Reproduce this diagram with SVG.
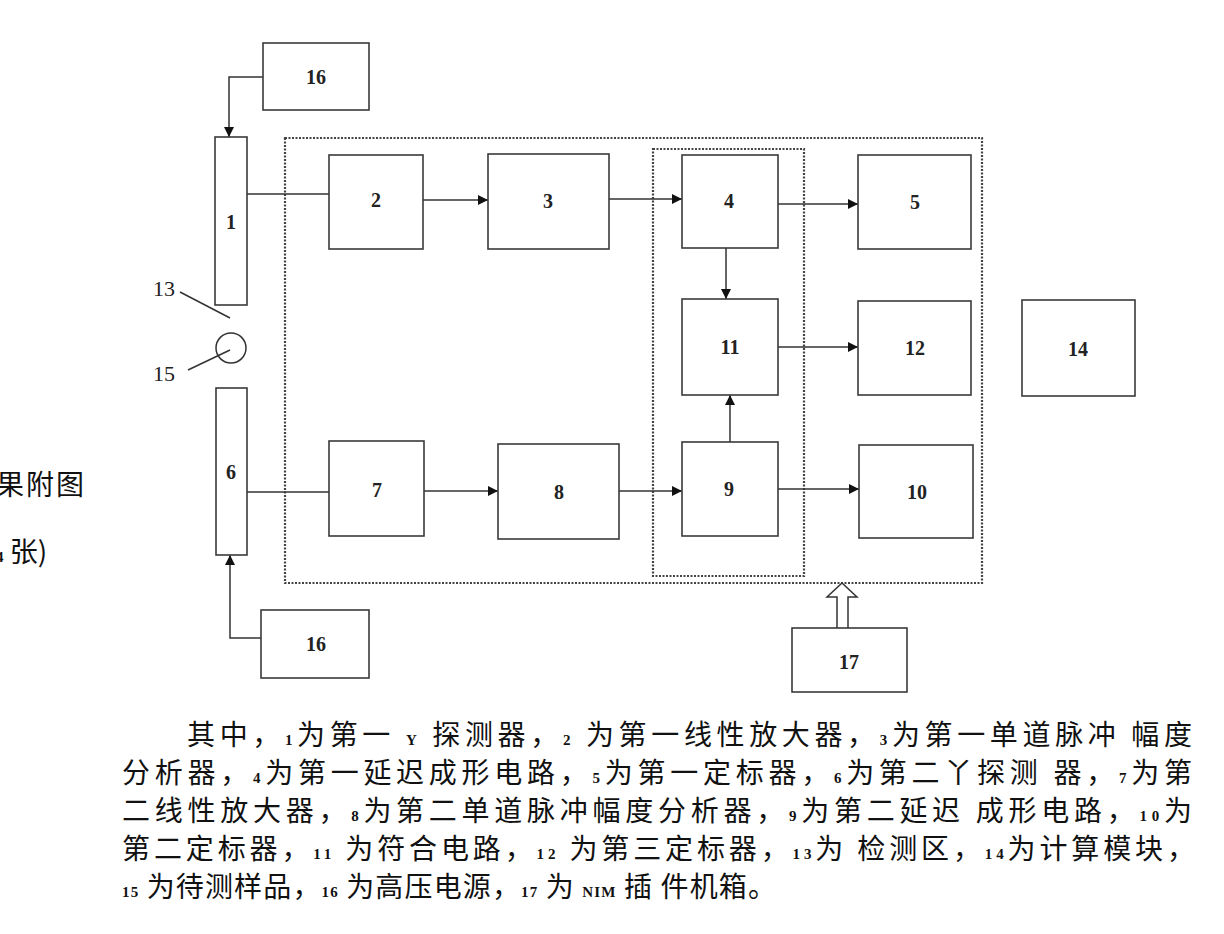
<svg xmlns="http://www.w3.org/2000/svg" width="1224" height="934" viewBox="0 0 1224 934">
<style>
.box{fill:#fff;stroke:#3a3a3a;stroke-width:1.6}
.lbl{font-family:"Liberation Serif",serif;font-weight:bold;font-size:20px;fill:#222;text-anchor:middle;dominant-baseline:central}
.wire{fill:none;stroke:#333;stroke-width:1.5}
.dot{fill:none;stroke:#444;stroke-width:2.2;stroke-dasharray:2 1.5}
.cn{font-family:"Noto Sans CJK SC","Noto Sans CJK JP",sans-serif;font-size:28px;fill:#111}
.nb{font-family:"Liberation Serif",serif;font-weight:bold;font-size:15px}
.side{font-family:"Liberation Serif",serif;font-size:22px;fill:#222}
</style>
<defs>
<marker id="ah" viewBox="0 0 10 10" refX="10" refY="5" markerWidth="12" markerHeight="10" markerUnits="userSpaceOnUse" orient="auto">
<path d="M0,0 L10,5 L0,10 z" fill="#111"/>
</marker>
</defs>
<rect width="1224" height="934" fill="#fff"/>

<g id="frames">
<rect class="dot" x="285" y="138" width="697" height="445"/>
<rect class="dot" x="653" y="149" width="151" height="427"/>
</g>

<g id="connectors">
<polyline class="wire" points="263,77 229,77 229,137" marker-end="url(#ah)"/>
<polyline class="wire" points="261,638 230,638 230,555" marker-end="url(#ah)"/>
<line class="wire" x1="247" y1="194" x2="329" y2="194"/>
<line class="wire" x1="423" y1="200" x2="488" y2="200" marker-end="url(#ah)"/>
<line class="wire" x1="609" y1="199" x2="682" y2="199" marker-end="url(#ah)"/>
<line class="wire" x1="778" y1="204" x2="858" y2="204" marker-end="url(#ah)"/>
<line class="wire" x1="726" y1="248" x2="726" y2="299" marker-end="url(#ah)"/>
<line class="wire" x1="778" y1="347" x2="858" y2="347" marker-end="url(#ah)"/>
<line class="wire" x1="730" y1="442" x2="730" y2="395" marker-end="url(#ah)"/>
<line class="wire" x1="778" y1="489" x2="859" y2="489" marker-end="url(#ah)"/>
<line class="wire" x1="247" y1="492" x2="329" y2="492"/>
<line class="wire" x1="424" y1="491" x2="498" y2="491" marker-end="url(#ah)"/>
<line class="wire" x1="619" y1="491" x2="682" y2="491" marker-end="url(#ah)"/>
<line class="wire" x1="180" y1="292" x2="230" y2="318"/>
<line class="wire" x1="188" y1="370" x2="230" y2="350"/>
<path d="M837,628 L837,597 L827,597 L842,583 L857,597 L848,597 L848,628" fill="#fff" stroke="#333" stroke-width="1.5"/>
</g>

<g id="n16a"><rect class="box" x="263" y="43" width="106" height="67"/><text class="lbl" x="316" y="77">16</text></g>
<g id="n1"><rect class="box" x="215" y="137" width="32" height="168"/><text class="lbl" x="231" y="222">1</text></g>
<g id="n2"><rect class="box" x="329" y="155" width="94" height="94"/><text class="lbl" x="376" y="200">2</text></g>
<g id="n3"><rect class="box" x="488" y="154" width="121" height="95"/><text class="lbl" x="548" y="201">3</text></g>
<g id="n4"><rect class="box" x="682" y="155" width="96" height="93"/><text class="lbl" x="729" y="201">4</text></g>
<g id="n5"><rect class="box" x="858" y="155" width="113" height="94"/><text class="lbl" x="915" y="202">5</text></g>
<g id="n11"><rect class="box" x="682" y="299" width="96" height="96"/><text class="lbl" x="730" y="347">11</text></g>
<g id="n12"><rect class="box" x="858" y="301" width="113" height="94"/><text class="lbl" x="915" y="348">12</text></g>
<g id="n14"><rect class="box" x="1022" y="300" width="113" height="96"/><text class="lbl" x="1078" y="349">14</text></g>
<g id="n13"><text class="side" x="153" y="296">13</text></g>
<g id="n15"><circle cx="231" cy="348" r="15" fill="none" stroke="#333" stroke-width="1.5"/><text class="side" x="153" y="381">15</text></g>
<g id="n6"><rect class="box" x="216" y="388" width="31" height="167"/><text class="lbl" x="231" y="472">6</text></g>
<g id="n7"><rect class="box" x="329" y="441" width="95" height="95"/><text class="lbl" x="377" y="490">7</text></g>
<g id="n8"><rect class="box" x="498" y="444" width="121" height="95"/><text class="lbl" x="559" y="492">8</text></g>
<g id="n9"><rect class="box" x="682" y="442" width="96" height="94"/><text class="lbl" x="729" y="489">9</text></g>
<g id="n10"><rect class="box" x="859" y="445" width="114" height="93"/><text class="lbl" x="917" y="492">10</text></g>
<g id="n16b"><rect class="box" x="261" y="610" width="108" height="68"/><text class="lbl" x="316" y="644">16</text></g>
<g id="n17"><rect class="box" x="792" y="628" width="115" height="64"/><text class="lbl" x="849" y="662">17</text></g>

<g id="sidetext">
<text class="cn" x="-4" y="495" font-size="26" letter-spacing="2">果附图</text>
<text class="cn" x="-4" y="562" font-size="26"><tspan class="nb">4</tspan> 张)</text>
</g>

<g id="caption">
<text class="cn" x="187" y="745" textLength="1005" lengthAdjust="spacing">其中，<tspan class="nb">1</tspan>为第一 <tspan class="nb">Y</tspan> 探测器，<tspan class="nb">2</tspan> 为第一线性放大器，<tspan class="nb">3</tspan>为第一单道脉冲 幅度</text>
<text class="cn" x="122" y="783" textLength="1070" lengthAdjust="spacing">分析器，<tspan class="nb">4</tspan>为第一延迟成形电路，<tspan class="nb">5</tspan>为第一定标器，<tspan class="nb">6</tspan>为第二丫探测 器，<tspan class="nb">7</tspan>为第</text>
<text class="cn" x="122" y="821" textLength="1070" lengthAdjust="spacing">二线性放大器，<tspan class="nb">8</tspan>为第二单道脉冲幅度分析器，<tspan class="nb">9</tspan>为第二延迟 成形电路，<tspan class="nb">10</tspan>为</text>
<text class="cn" x="122" y="859" textLength="1073" lengthAdjust="spacing">第二定标器，<tspan class="nb">11</tspan> 为符合电路，<tspan class="nb">12</tspan> 为第三定标器，<tspan class="nb">13</tspan>为 检测区，<tspan class="nb">14</tspan>为计算模块，</text>
<text class="cn" x="122" y="897" textLength="654" lengthAdjust="spacing"><tspan class="nb">15</tspan> 为待测样品，<tspan class="nb">16</tspan> 为高压电源，<tspan class="nb">17</tspan> 为 <tspan class="nb">NIM</tspan> 插 件机箱。</text>
</g>
</svg>
